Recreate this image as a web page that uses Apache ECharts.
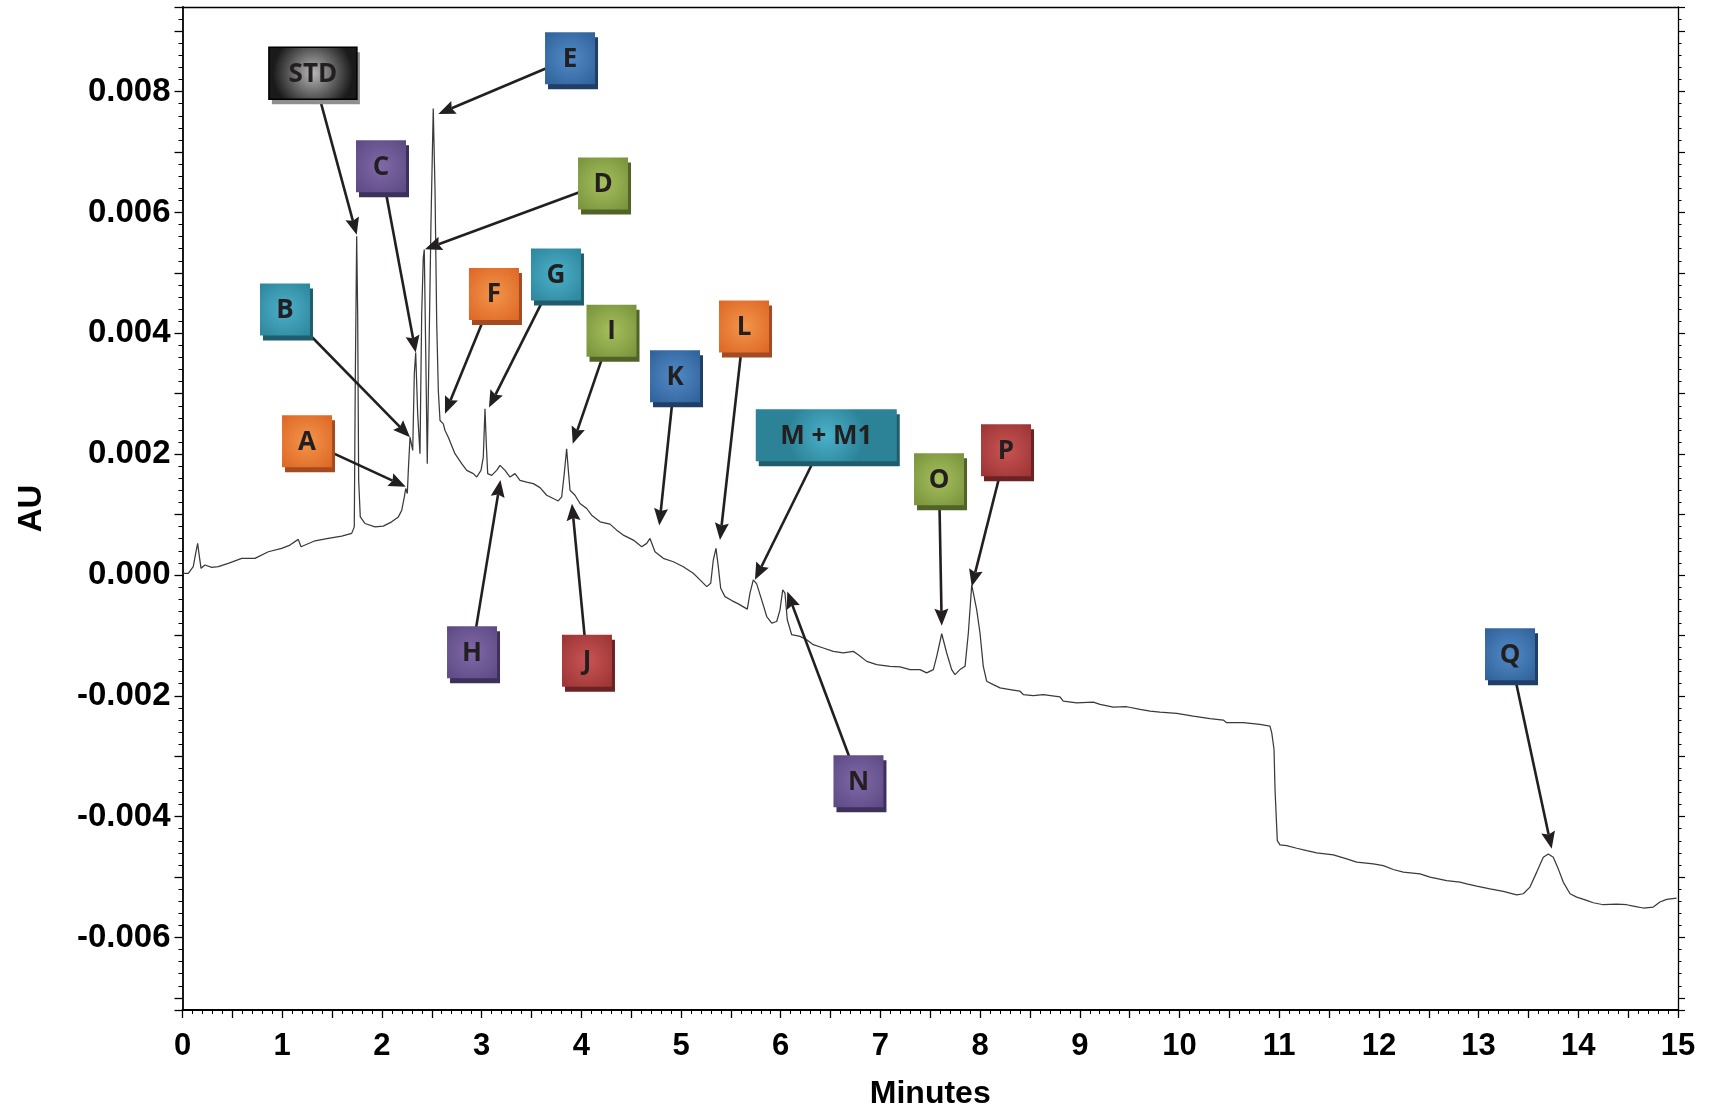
<!DOCTYPE html>
<html>
<head>
<meta charset="utf-8">
<title>Chromatogram</title>
<script src="https://cdn.jsdelivr.net/npm/echarts@6/dist/echarts.min.js"></script>
<style>
  html, body { margin: 0; padding: 0; background: #ffffff; }
  #chart { width: 1714px; height: 1111px; }
</style>
</head>
<body>
<div id="chart"></div>
<script>
// Detector trace: retention time (min) and absorbance (AU)
const retentionTime = [
  0.008,0.058,0.108,0.132,0.152,0.165,0.186,0.226,0.293,0.359,
  0.459,0.594,0.727,0.861,0.995,1.078,1.161,1.189,1.329,1.462,
  1.597,1.697,1.723,1.733,1.747,1.757,1.767,1.783,1.830,1.931,
  2.014,2.098,2.165,2.199,2.225,2.239,2.255,2.265,2.282,2.299,
  2.309,2.325,2.339,2.359,2.382,2.399,2.415,2.425,2.439,2.455,
  2.492,2.515,2.533,2.550,2.566,2.583,2.616,2.633,2.666,2.733,
  2.800,2.851,2.917,2.951,2.994,3.017,3.034,3.047,3.061,3.101,
  3.151,3.185,3.235,3.285,3.335,3.385,3.452,3.519,3.586,3.653,
  3.719,3.769,3.803,3.829,3.853,3.870,3.887,3.937,3.987,4.054,
  4.104,4.188,4.288,4.355,4.421,4.522,4.606,4.656,4.689,4.739,
  4.822,4.923,5.023,5.123,5.191,5.258,5.298,5.324,5.351,5.374,
  5.398,5.441,5.509,5.575,5.665,5.692,5.725,5.759,5.809,5.860,
  5.910,5.960,5.993,6.020,6.043,6.066,6.110,6.194,6.261,6.327,
  6.427,6.528,6.628,6.728,6.778,6.863,6.963,7.096,7.197,7.297,
  7.397,7.464,7.531,7.565,7.615,7.665,7.715,7.748,7.798,7.849,
  7.882,7.916,7.966,7.999,8.032,8.066,8.132,8.200,8.300,8.400,
  8.433,8.534,8.634,8.801,8.834,8.969,9.135,9.203,9.336,9.470,
  9.604,9.704,9.804,9.972,10.138,10.306,10.439,10.473,10.640,10.807,
  10.907,10.925,10.948,10.958,10.981,11.008,11.075,11.176,11.276,11.376,
  11.543,11.677,11.777,11.944,12.044,12.144,12.245,12.412,12.513,12.680,
  12.813,12.881,12.981,13.114,13.248,13.382,13.448,13.515,13.583,13.649,
  13.699,13.749,13.799,13.849,13.917,13.984,14.084,14.150,14.251,14.385,
  14.485,14.551,14.652,14.752,14.819,14.886,14.986
];
const absorbance = [
  0.000028,0.000028,0.000137,0.000358,0.000523,0.000358,0.000110,0.000165,0.000127,0.000137,
  0.000193,0.000275,0.000275,0.000384,0.000440,0.000495,0.000589,0.000467,0.000566,0.000605,
  0.000643,0.000688,0.000796,0.003215,0.005606,0.004315,0.001566,0.000961,0.000852,0.000796,
  0.000808,0.000879,0.000961,0.001072,0.001291,0.001430,0.001347,0.001731,0.002280,0.002308,
  0.002061,0.003326,0.003682,0.002666,0.002007,0.004315,0.005248,0.005387,0.003764,0.001842,
  0.005799,0.007721,0.006348,0.004150,0.003050,0.002556,0.002501,0.002391,0.002280,0.002007,
  0.001842,0.001731,0.001677,0.001621,0.001731,0.001951,0.002749,0.002171,0.001677,0.001649,
  0.001731,0.001814,0.001731,0.001621,0.001677,0.001566,0.001538,0.001512,0.001446,0.001319,
  0.001265,0.001225,0.001291,0.001677,0.002089,0.001731,0.001401,0.001319,0.001182,0.001100,
  0.000989,0.000879,0.000841,0.000742,0.000660,0.000577,0.000467,0.000523,0.000605,0.000384,
  0.000275,0.000219,0.000137,0.000028,-0.000082,-0.000193,-0.000137,0.000247,0.000440,0.000137,
  -0.000219,-0.000358,-0.000424,-0.000478,-0.000566,-0.000302,-0.000082,-0.000148,-0.000412,-0.000688,
  -0.000796,-0.000770,-0.000577,-0.000247,-0.000302,-0.000742,-0.000989,-0.001017,-0.001072,-0.001154,
  -0.001209,-0.001265,-0.001291,-0.001265,-0.001319,-0.001430,-0.001484,-0.001512,-0.001522,-0.001566,
  -0.001566,-0.001621,-0.001566,-0.001347,-0.000973,-0.001291,-0.001566,-0.001649,-0.001566,-0.001512,
  -0.000961,-0.000165,-0.000577,-0.000961,-0.001512,-0.001759,-0.001814,-0.001868,-0.001896,-0.001924,
  -0.001979,-0.001995,-0.001979,-0.002016,-0.002089,-0.002115,-0.002106,-0.002143,-0.002188,-0.002181,
  -0.002226,-0.002254,-0.002270,-0.002292,-0.002336,-0.002379,-0.002402,-0.002445,-0.002445,-0.002473,
  -0.002501,-0.002610,-0.002885,-0.003545,-0.004397,-0.004468,-0.004480,-0.004523,-0.004562,-0.004600,
  -0.004633,-0.004699,-0.004754,-0.004782,-0.004810,-0.004875,-0.004918,-0.004946,-0.005001,-0.005057,
  -0.005083,-0.005111,-0.005149,-0.005194,-0.005238,-0.005293,-0.005276,-0.005166,-0.004918,-0.004671,
  -0.004617,-0.004671,-0.004864,-0.005083,-0.005276,-0.005331,-0.005387,-0.005425,-0.005458,-0.005446,
  -0.005458,-0.005479,-0.005512,-0.005496,-0.005413,-0.005370,-0.005347
];

// Peak identifications and the point on the trace each arrow indicates
const peakLabels = ['STD','A','B','C','D','E','F','G','H','I','J','K','L','M + M1','N','O','P','Q'];
const arrowTipTime = [1.747,2.239,2.282,2.339,2.432,2.566,2.633,3.074,3.189,3.914,3.906,4.782,5.391,5.742,6.066,7.615,7.916,13.733];
const arrowTipAU = [0.00563,0.00146,0.00228,0.00368,0.00539,0.00763,0.00267,0.00277,0.00157,0.00217,0.00118,0.00082,0.00058,-0.00008,-0.000275,-0.00084,-0.00019,-0.00453];

// Axis ranges and tick steps
const timeRange = [0, 15];
const timeTickStep = 0.5;
const auRange = [-0.0072, 0.0094];
const auLabelStep = 0.002;

// Callout layout: box centres in (min, AU), box widths in px, colour tone
const boxTime = [1.308,1.249,1.028,1.991,4.218,3.887,3.124,3.746,2.904,4.303,4.057,4.940,5.632,6.457,6.780,7.588,8.260,13.315];
const boxAU = [0.008305,0.002214,0.004394,0.006765,0.006480,0.008552,0.004650,0.004974,-0.001281,0.004040,-0.001418,0.003289,0.004114,0.002313,-0.003413,0.001583,0.002064,-0.001311];
const boxWidth = [88,50,50,50,50,50,50,50,50,50,50,50,50,141,50,50,50,50];
const boxTone = ['gray','orange','teal','purple','green','blue','orange','teal','purple','green','red','blue','orange','teal','purple','green','red','blue'];
const tones = {
  gray:   { light: '#b8b8b8', dark: '#1a1a1a', shadow: '#8f8f8f' },
  orange: { light: '#f3954a', dark: '#dc6422', shadow: '#a44b22' },
  teal:   { light: '#4bb1ca', dark: '#2c8398', shadow: '#1f5d6d' },
  purple: { light: '#8069a9', dark: '#5a4880', shadow: '#3d305a' },
  green:  { light: '#a5c05c', dark: '#768f3a', shadow: '#516428' },
  blue:   { light: '#518bc8', dark: '#2e5e95', shadow: '#1f3f67' },
  red:    { light: '#c95454', dark: '#983232', shadow: '#6c2222' }
};

const AXIS_FONT = "'Liberation Sans', Arial, Helvetica, sans-serif";
const BOX_FONT = "'Open Sans', 'Liberation Sans', sans-serif";

const trace = retentionTime.map((t, i) => [t, absorbance[i]]);

function isMultiple(v, step) {
  const k = v / step;
  return Math.abs(k - Math.round(k)) < 1e-6;
}
function auTickLabel(v) {
  if (!isMultiple(v, auLabelStep)) return '';
  if (Math.abs(v) < 1e-9) return '0.000';
  return v.toFixed(3);
}
function timeTickLabel(v) {
  return isMultiple(v, 1) ? String(Math.round(v)) : '';
}

const chart = echarts.init(document.getElementById('chart'), null, { renderer: 'canvas' });

chart.setOption({
  animation: false,
  backgroundColor: '#ffffff',
  grid: { left: 182.5, right: 36, top: 7, bottom: 101, containLabel: false, outerBoundsMode: 'none' },
  xAxis: [
    {
      type: 'value', position: 'bottom', min: timeRange[0], max: timeRange[1], interval: timeTickStep,
      axisLine: { show: true, onZero: false, lineStyle: { color: '#000', width: 1.8 } },
      axisTick: { show: true, inside: false, length: 8, lineStyle: { color: '#000', width: 1.3 } },
      minorTick: { show: true, splitNumber: 5, length: 4, lineStyle: { color: '#000', width: 1 } },
      splitLine: { show: false }, minorSplitLine: { show: false },
      axisLabel: {
        margin: 21, formatter: timeTickLabel, showMinLabel: true, showMaxLabel: true,
        color: '#000', fontFamily: AXIS_FONT, fontWeight: 'bold', fontSize: 31
      },
      name: 'Minutes', nameLocation: 'middle', nameGap: 68,
      nameTextStyle: { color: '#000', fontFamily: AXIS_FONT, fontWeight: 'bold', fontSize: 32 }
    },
    {
      type: 'value', position: 'top', min: timeRange[0], max: timeRange[1], interval: timeTickStep,
      axisLine: { show: true, onZero: false, lineStyle: { color: '#000', width: 1.3 } },
      axisTick: { show: false }, minorTick: { show: false },
      axisLabel: { show: false }, splitLine: { show: false }
    }
  ],
  yAxis: [
    {
      type: 'value', position: 'left', min: auRange[0], max: auRange[1], splitNumber: 16,
      axisLine: { show: true, onZero: false, lineStyle: { color: '#000', width: 1.8 } },
      axisTick: { show: true, inside: false, length: 8, lineStyle: { color: '#000', width: 1.3 } },
      minorTick: { show: true, splitNumber: 5, length: 4, lineStyle: { color: '#000', width: 1 } },
      splitLine: { show: false }, minorSplitLine: { show: false },
      axisLabel: {
        margin: 12, formatter: auTickLabel, showMinLabel: true, showMaxLabel: true,
        color: '#000', fontFamily: AXIS_FONT, fontWeight: 'bold', fontSize: 33
      },
      name: 'AU', nameLocation: 'middle', nameGap: 134, nameRotate: 90,
      nameTextStyle: { color: '#000', fontFamily: AXIS_FONT, fontWeight: 'bold', fontSize: 33 }
    },
    {
      type: 'value', position: 'right', min: auRange[0], max: auRange[1], splitNumber: 16,
      axisLine: { show: true, onZero: false, lineStyle: { color: '#000', width: 1.3 } },
      axisTick: { show: true, inside: false, length: 7, lineStyle: { color: '#000', width: 1.2 } },
      minorTick: { show: true, splitNumber: 5, length: 3.5, lineStyle: { color: '#000', width: 1 } },
      splitLine: { show: false }, minorSplitLine: { show: false },
      axisLabel: { show: false }
    }
  ],
  series: [
    {
      type: 'line', xAxisIndex: 0, yAxisIndex: 0, data: trace,
      showSymbol: false, symbol: 'none', silent: true,
      lineStyle: { color: '#3a3a3a', width: 1.25 }
    }
  ]
});

// Callout boxes with arrows pointing at the peaks
function buildCallouts() {
  const els = [];
  const toPx = (t, v) => chart.convertToPixel({ xAxisIndex: 0, yAxisIndex: 0 }, [t, v]);
  const boxH = 52;
  const headLen = 17, headHalf = 7;
  peakLabels.forEach((label, i) => {
    const tip = toPx(arrowTipTime[i], arrowTipAU[i]);
    const c = toPx(boxTime[i], boxAU[i]);
    const dx = tip[0] - c[0], dy = tip[1] - c[1];
    const len = Math.hypot(dx, dy);
    const ux = dx / len, uy = dy / len;
    const base = [tip[0] - ux * headLen, tip[1] - uy * headLen];
    const notch = [tip[0] - ux * (headLen - 2.5), tip[1] - uy * (headLen - 2.5)];
    els.push({
      type: 'line', z: 20, silent: true,
      shape: { x1: c[0], y1: c[1], x2: notch[0], y2: notch[1] },
      style: { stroke: '#231f20', lineWidth: 2.6 }
    });
    els.push({
      type: 'polygon', z: 20, silent: true,
      shape: { points: [
        [tip[0], tip[1]],
        [base[0] - uy * headHalf, base[1] + ux * headHalf],
        [notch[0], notch[1]],
        [base[0] + uy * headHalf, base[1] - ux * headHalf]
      ] },
      style: { fill: '#231f20' }
    });

    const tone = tones[boxTone[i]];
    const w = boxWidth[i];
    const x0 = c[0] - w / 2, y0 = c[1] - boxH / 2;
    els.push({
      type: 'rect', z: 21, silent: true,
      shape: { x: x0 + 3, y: y0 + 5, width: w, height: boxH },
      style: { fill: tone.shadow }
    });
    els.push({
      type: 'rect', z: 22, silent: true,
      shape: { x: x0, y: y0, width: w, height: boxH },
      style: {
        fill: {
          type: 'radial', x: 0.5, y: 0.5, r: 0.75, global: false,
          colorStops: [
            { offset: 0, color: tone.light },
            { offset: 1, color: tone.dark }
          ]
        },
        stroke: boxTone[i] === 'gray' ? '#000000' : null,
        lineWidth: boxTone[i] === 'gray' ? 1.5 : 0
      }
    });
    els.push({
      type: 'text', z: 23, silent: true,
      x: c[0], y: c[1] + 1,
      style: {
        text: label, fill: '#231f20',
        fontFamily: BOX_FONT, fontWeight: 'bold', fontSize: 26,
        align: 'center', verticalAlign: 'middle'
      }
    });
  });
  chart.setOption({ graphic: { elements: els } });
}
buildCallouts();
</script>
</body>
</html>
